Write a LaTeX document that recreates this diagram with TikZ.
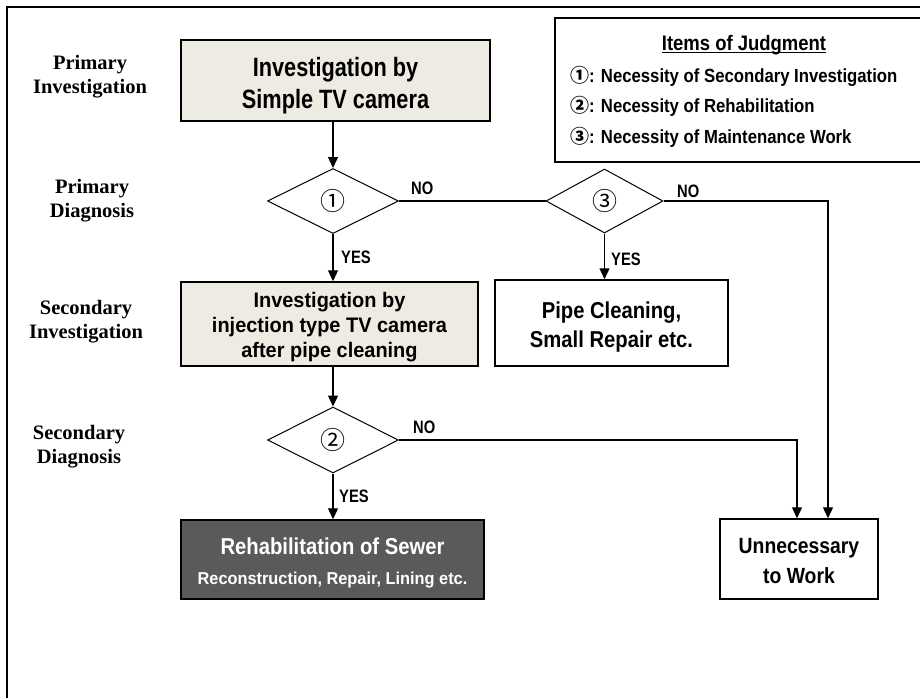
\documentclass[tikz,border=0pt]{standalone}
\usepackage{fontspec}
\setmainfont{Liberation Serif}
\newfontfamily\gA[FakeStretch=0.82]{Liberation Sans}
\newfontfamily\gB[FakeStretch=0.88]{Liberation Sans}
\newfontfamily\gC[FakeStretch=0.95]{Liberation Sans}
\newfontfamily\cjkfont{Noto Sans CJK JP}
\usetikzlibrary{shapes.geometric,arrows.meta,calc}
\definecolor{beige}{RGB}{238,236,226}
\definecolor{darkbox}{RGB}{90,90,90}
\newcommand{\upstrut}[1]{\rule{0pt}{#1pt}}
\begin{document}
\begin{tikzpicture}[x=1pt,y=-1pt,
  box/.style={draw=black, line width=1.5pt, inner sep=0pt, align=center},
  dia/.style={draw=black, shape=diamond, line width=1pt, inner sep=0pt, font=\cjkfont\fontsize{25}{25}\selectfont},
  lab/.style={font=\rmfamily\bfseries\fontsize{20.5}{24}\selectfont, align=center, inner sep=0pt},
  yn/.style={font=\gA\bfseries\fontsize{18}{18}\selectfont, inner sep=0pt, anchor=base west},
  leg/.style={font=\gB\bfseries\fontsize{19}{19}\selectfont, inner sep=0pt, anchor=base west},
  arr/.style={line width=1.3pt, -{Triangle[length=11pt,width=10pt]}},
  conn/.style={line width=1.1pt},
]
\path[use as bounding box] (0,0) rectangle (920,697);
\draw[line width=2pt] (7,705) -- (7,7) -- (930,7);

% legend
\node[draw, line width=1.5pt, minimum width=380pt, minimum height=144pt, anchor=north west, inner sep=0pt] (legend) at (554,17) {};
\node[font=\gB\bfseries\fontsize{21}{21}\selectfont, inner sep=0pt, anchor=base] (title) at (744,50) {Items of Judgment};
\draw[line width=1.2pt] ($(title.base west)+(0,2.5)$) -- ($(title.base east)+(0,2.5)$);
\node[leg] (it1) at (570,82) {{\cjkfont\bfseries ①}: Necessity of Secondary Investigation};
\node[leg] (it2) at (570,112) {{\cjkfont\bfseries ②}: Necessity of Rehabilitation};
\node[leg] (it3) at (570,143) {{\cjkfont\bfseries ③}: Necessity of Maintenance Work};

% left labels
\node[lab] (l1) at (90,76.4) {Primary\\Investigation};
\node[lab] (l2) at (92,201) {Primary\\Diagnosis};
\node[lab] (l3) at (86,322) {Secondary\\Investigation};
\node[lab] (l4) at (79,447) {Secondary\\Diagnosis};

% boxes
\node[box, fill=beige, minimum width=309pt, minimum height=81pt, font=\gA\bfseries\fontsize{26.5}{32}\selectfont] (b1) at (335.5,80.5) {\upstrut{28.5}Investigation by\\Simple TV camera};
\node[box, fill=beige, minimum width=297pt, minimum height=84pt, font=\gC\bfseries\fontsize{21}{25}\selectfont] (b2) at (329.5,324) {\upstrut{22.1}Investigation by\\injection type TV camera\\after pipe cleaning};
\node[box, fill=white, minimum width=233pt, minimum height=86pt, font=\gB\bfseries\fontsize{23}{29}\selectfont] (b3) at (611.5,323) {\upstrut{24.8}Pipe Cleaning,\\Small Repair etc.};
\node[box, fill=white, minimum width=158pt, minimum height=80pt, font=\gB\bfseries\fontsize{22}{30}\selectfont] (b4) at (799,559) {\upstrut{19.8}Unnecessary\\to Work};
\node[box, fill=darkbox, text=white, minimum width=303pt, minimum height=79pt, font=\gB\bfseries\fontsize{23}{30}\selectfont] (b5) at (332.5,559.5) {\upstrut{23.4}Rehabilitation of Sewer\\{\gC\bfseries\fontsize{17.2}{30}\selectfont Reconstruction, Repair, Lining etc.}};

% diamonds
\node[dia, minimum width=131pt, minimum height=65pt] (d1) at (333,201) {①};
\node[dia, minimum width=117pt, minimum height=64pt] (d3) at (604.5,201) {③};
\node[dia, minimum width=131pt, minimum height=66pt] (d2) at (333,440) {②};

% labels YES / NO
\node[yn] (no1) at (411,194) {NO};
\node[yn] (yes1) at (341,263) {YES};
\node[yn] (no3) at (677,197) {NO};
\node[yn] (yes3) at (611,265) {YES};
\node[yn] (no2) at (413,433) {NO};
\node[yn] (yes2) at (339,502) {YES};

% connectors
\coordinate (c3) at (828,201);
\coordinate (c2) at (797,440);
\draw[arr] (b1.south -| d1.north) -- (d1.north);
\draw[arr] (d1.south) -- (d1.south |- b2.north);
\draw[conn] (d1.east) -- (d3.west);
\draw[arr] (d3.east) -- (c3) -- (c3 |- b4.north);
\draw[arr] (d3.south) -- (d3.south |- b3.north);
\draw[arr] (b2.south -| d2.north) -- (d2.north);
\draw[arr] (d2.east) -- (c2) -- (c2 |- b4.north);
\draw[arr] (d2.south) -- (d2.south |- b5.north);
\end{tikzpicture}
\end{document}
